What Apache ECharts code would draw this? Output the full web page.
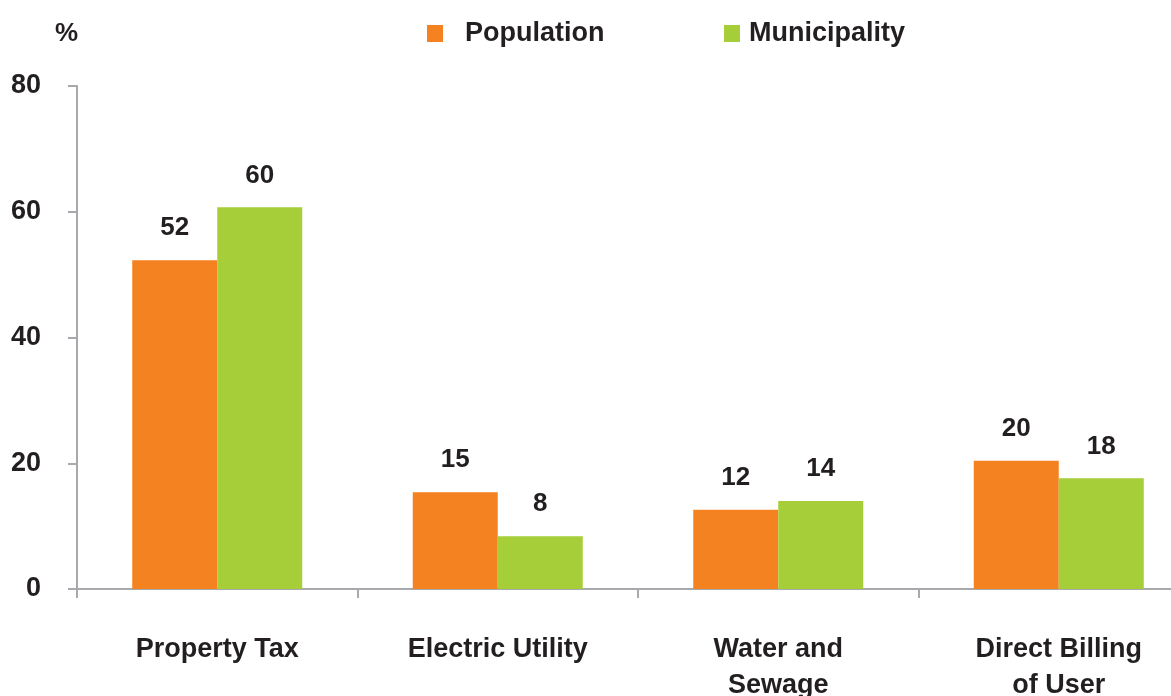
<!DOCTYPE html>
<html>
<head>
<meta charset="utf-8">
<title>Billing channels</title>
<script src="https://cdn.jsdelivr.net/npm/echarts@6/dist/echarts.min.js"></script>
<style>
  html, body { margin: 0; padding: 0; background: #fff; }
  #main { width: 1171px; height: 696px; }
</style>
</head>
<body>
<div id="main"></div>
<script>
// data
const categories = ['Property Tax', 'Electric Utility', 'Water and\nSewage', 'Direct Billing\nof User']
const population = [52.3, 15.4, 12.6, 20.4]
const municipality = [60.7, 8.4, 14.0, 17.6]
// value labels as printed on the chart
const populationLabels = ['52', '15', '12', '20']
const municipalityLabels = ['60', '8', '14', '18']
const yTicks = [0, 20, 40, 60, 80]

const FONT = "'Liberation Sans', Arial, sans-serif"
const TEXT = '#231F20'
const AXIS = '#A7A9AC'

const chart = echarts.init(document.getElementById('main'))

const labelStyle = (texts) => ({
  show: true,
  position: 'top',
  distance: 19,
  color: TEXT,
  fontFamily: FONT,
  fontWeight: 'bold',
  fontSize: 26,
  formatter: (p) => texts[p.dataIndex]
})

chart.setOption({
  backgroundColor: '#fff',
  animation: false,
  title: {
    text: '%',
    left: 50,
    top: 16,
    textStyle: { color: TEXT, fontFamily: FONT, fontWeight: 'bold', fontSize: 26 }
  },
  legend: [{
    data: ['Population'],
    left: 422,
    top: 15,
    itemWidth: 16,
    itemHeight: 17,
    icon: 'rect',
    textStyle: { color: TEXT, fontFamily: FONT, fontWeight: 'bold', fontSize: 27, padding: [0, 0, 0, 17] }
  }, {
    data: ['Municipality'],
    left: 719,
    top: 15,
    itemWidth: 16,
    itemHeight: 17,
    icon: 'rect',
    textStyle: { color: TEXT, fontFamily: FONT, fontWeight: 'bold', fontSize: 27, padding: [0, 0, 0, 4] }
  }],
  // the axis runs past the right edge of the picture
  grid: { left: 77, width: 1122, top: 86, bottom: 107, containLabel: false, outerBoundsMode: 'none' },
  xAxis: {
    type: 'category',
    data: categories,
    axisLine: { lineStyle: { color: AXIS, width: 2 } },
    axisTick: { show: true, length: 9, lineStyle: { color: AXIS, width: 2 } },
    axisLabel: {
      interval: 0,
      margin: 43,
      color: TEXT,
      fontFamily: FONT,
      fontWeight: 'bold',
      fontSize: 27,
      lineHeight: 36
    }
  },
  yAxis: {
    type: 'value',
    min: yTicks[0],
    max: yTicks[yTicks.length - 1],
    interval: 20,
    axisLine: { show: true, lineStyle: { color: AXIS, width: 2 } },
    axisTick: { show: true, length: 9, lineStyle: { color: AXIS, width: 2 } },
    splitLine: { show: false },
    axisLabel: {
      margin: 36,
      color: TEXT,
      fontFamily: FONT,
      fontWeight: 'bold',
      fontSize: 27
    }
  },
  series: [{
    name: 'Population',
    type: 'bar',
    barWidth: 85,
    barGap: '0%',
    itemStyle: { color: '#F58220' },
    label: labelStyle(populationLabels),
    data: population
  }, {
    name: 'Municipality',
    type: 'bar',
    barWidth: 85,
    barGap: '0%',
    itemStyle: { color: '#A6CE39' },
    label: labelStyle(municipalityLabels),
    data: municipality
  }]
})

window.onresize = chart.resize
</script>
</body>
</html>
